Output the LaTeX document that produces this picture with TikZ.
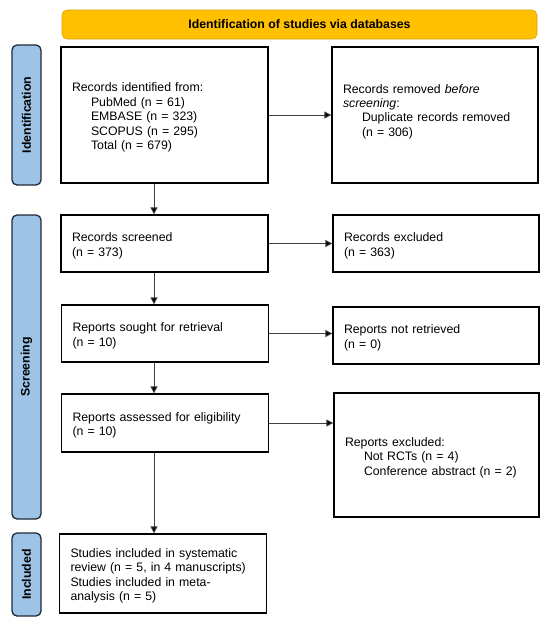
\documentclass[tikz,border=0pt]{standalone}
\usepackage{fontspec}
\setmainfont{Liberation Sans}
\usetikzlibrary{arrows.meta}

\definecolor{bannerfill}{HTML}{FFC000}
\definecolor{bannerline}{HTML}{D9A300}
\definecolor{phasefill}{HTML}{9DC3E6}
\definecolor{phaseline}{HTML}{1F2A36}

\tikzset{
  box/.style={draw=black, line width=1.3pt, fill=white, align=left,
    inner xsep=11pt, inner ysep=0pt, text width=#1,
    execute at end node={\par\kern-5pt}},
  box/.default=185pt,
  lift/.style={execute at end node={\par\kern12pt}},
  phase/.style={draw=phaseline, line width=1.3pt, fill=phasefill,
    rounded corners=5pt, minimum width=29pt},
  banner/.style={draw=bannerline, line width=0.6pt, fill=bannerfill,
    rounded corners=5pt, minimum width=475pt, minimum height=29pt},
  arr/.style={draw=black!75, line width=0.9pt,
    -{Triangle[length=7pt,width=7pt,fill=black]}},
}

\newcommand{\indentline}{\hspace*{19pt}}

\begin{document}
\begin{tikzpicture}[x=1pt, y=-1pt, font=\fontsize{12.3}{14.4}\selectfont]

  \useasboundingbox (0,0) rectangle (550,622);

  % header
  \node[banner] (head) at (299.5,24.5) {\bfseries Identification of studies via databases};

  % phases
  \node[phase, minimum height=140pt] (pid) at (26.5,115) {};
  \node[phase, minimum height=304pt] (pscr) at (26.5,367) {};
  \node[phase, minimum height=83pt] (pinc) at (26.5,574.5) {};
  \foreach \p/\t in {pid/Identification, pscr/Screening, pinc/Included}
    \node[rotate=90, font=\fontsize{12.3}{14.4}\selectfont\bfseries] at (\p) {\t};

  % left column
  \node[box, minimum height=136pt] (ident) at (164.5,115)
    {Records identified from:\\
     \indentline PubMed (n = 61)\\
     \indentline EMBASE (n = 323)\\
     \indentline SCOPUS (n = 295)\\
     \indentline Total (n = 679)};
  \node[box, minimum height=57pt] (screened) at (164.5,243.5)
    {Records screened\\(n = 373)};
  \node[box, minimum height=57pt] (sought) at (165,333.5)
    {Reports sought for retrieval\\(n = 10)};
  \node[box, minimum height=58pt] (assessed) at (165,423)
    {Reports assessed for eligibility\\(n = 10)};
  \node[box, minimum height=79pt] (included) at (163,573.5)
    {Studies included in systematic\\
     review (n = 5, in 4 manuscripts)\\
     Studies included in meta-\\
     analysis (n = 5)};

  % right column
  \node[box=184pt, lift, minimum height=136pt] (removed) at (435,115)
    {Records removed \textit{before}\\
     \textit{screening}:\\
     \indentline Duplicate records removed\\
     \indentline (n = 306)};
  \node[box=184pt, minimum height=57pt] (excluded) at (436,243.5)
    {Records excluded\\(n = 363)};
  \node[box=184pt, minimum height=57pt] (notretr) at (436,335.5)
    {Reports not retrieved\\(n = 0)};
  \node[box=183pt, minimum height=124pt] (repexcl) at (436.5,455)
    {Reports excluded:\\
     \indentline Not RCTs (n = 4)\\
     \indentline Conference abstract (n = 2)};

  % arrows
  \coordinate (ax) at (154,0);
  \foreach \a/\b in {ident/screened, screened/sought, sought/assessed, assessed/included}
    \draw[arr] (ax |- \a.south) -- (ax |- \b.north);
  \foreach \a/\b in {ident/removed, screened/excluded, sought/notretr, assessed/repexcl}
    \draw[arr] (\a.east) -- (\b.west |- \a.east);

\end{tikzpicture}
\end{document}
